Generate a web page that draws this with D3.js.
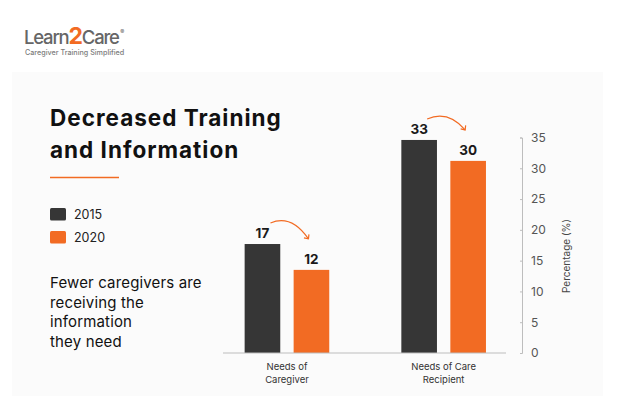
<!DOCTYPE html>
<html>
<head>
<meta charset="utf-8">
<script src="https://cdn.jsdelivr.net/npm/d3@7"></script>
<style>
  body { margin: 0; background: #fff; }
  svg { display: block; font-family: Inter, 'Open Sans', sans-serif; }
</style>
</head>
<body>
<div id="chart"></div>
<script>
// data
const categories = ['Needs of Caregiver', 'Needs of Care Recipient'];
const categoryLines = [['Needs of', 'Caregiver'], ['Needs of Care', 'Recipient']];
const series = ['2015', '2020'];
const values2015 = [17.7, 34.6];   // bar heights as drawn
const values2020 = [13.5, 31.2];
const labels2015 = ['17', '33'];   // printed labels
const labels2020 = ['12', '30'];
const yTicks = [0, 5, 10, 15, 20, 25, 30, 35];
const noteLines = ['Fewer caregivers are', 'receiving the', 'information', 'they need'];

const colors = { '2015': '#363636', '2020': '#f26b23' };
const W = 620, H = 408;

const svg = d3.select('#chart').append('svg')
  .attr('width', W)
  .attr('height', H);

// faint card behind the content
svg.append('rect')
  .attr('x', 12).attr('y', 72)
  .attr('width', 591).attr('height', 324)
  .attr('fill', '#fbfbfb');

// logo
const logo = svg.append('text')
  .attr('x', 24).attr('y', 44)
  .attr('font-size', 18.5)
  .attr('font-weight', 500)
  .attr('fill', '#666')
  .attr('letter-spacing', -1.2);
logo.append('tspan').text('Learn');
logo.append('tspan').attr('fill', '#f26b23').attr('font-weight', 700).attr('font-size', 23).text('2');
logo.append('tspan').text('Care');
logo.append('tspan').attr('font-size', 6).attr('dy', -10).attr('dx', 1.5).text('®');
svg.append('text')
  .attr('x', 25).attr('y', 55)
  .attr('font-size', 7.2)
  .attr('font-weight', 500)
  .attr('fill', '#7c7c7c')
  .text('Caregiver Training Simplified');

// title
const title = svg.append('text')
  .attr('x', 50)
  .attr('font-size', 22.5)
  .attr('font-weight', 700)
  .attr('fill', '#111')
  .attr('letter-spacing', 1);
title.append('tspan').attr('x', 50).attr('y', 126).text('Decreased Training');
title.append('tspan').attr('x', 50).attr('y', 158).text('and Information');

svg.append('line')
  .attr('x1', 50).attr('x2', 119)
  .attr('y1', 177.5).attr('y2', 177.5)
  .attr('stroke', '#f26b23')
  .attr('stroke-width', 1.5);

// legend
const legend = svg.append('g');
series.forEach((s, i) => {
  const g = legend.append('g').attr('transform', `translate(50,${208 + i * 23})`);
  g.append('rect')
    .attr('width', 16).attr('height', 12.5)
    .attr('rx', 1.5)
    .attr('fill', colors[s]);
  g.append('text')
    .attr('x', 24).attr('y', 10.5)
    .attr('font-size', 12.5)
    .attr('fill', '#222')
    .text(s);
});

// note
svg.append('g').selectAll('text')
  .data(noteLines)
  .enter().append('text')
  .attr('x', 50)
  .attr('y', (d, i) => 288 + i * 19.6)
  .attr('font-size', 15)
  .attr('letter-spacing', 0.15)
  .attr('fill', '#111')
  .text(d => d);

// scales
const x0 = d3.scaleBand()
  .domain(categories)
  .range([208.6, 522])
  .paddingInner(0.46)
  .paddingOuter(0.23);

const x1 = d3.scaleBand()
  .domain(series)
  .range([0, x0.bandwidth()])
  .paddingInner(0.273);

const y = d3.scaleLinear()
  .domain([0, 35])
  .range([353, 137.5]);

const rows = categories.map((c, i) => ({
  cat: c,
  bars: [
    { s: '2015', v: values2015[i], label: labels2015[i] },
    { s: '2020', v: values2020[i], label: labels2020[i] },
  ],
}));

const groups = svg.append('g').selectAll('.group')
  .data(rows)
  .enter().append('g')
  .attr('class', 'group')
  .attr('transform', d => `translate(${x0(d.cat)},0)`);

groups.selectAll('rect')
  .data(d => d.bars)
  .enter().append('rect')
  .attr('x', d => x1(d.s))
  .attr('y', d => y(d.v))
  .attr('width', x1.bandwidth())
  .attr('height', d => y(0) - y(d.v))
  .attr('fill', d => colors[d.s]);

groups.selectAll('.val')
  .data(d => d.bars)
  .enter().append('text')
  .attr('class', 'val')
  .attr('x', d => x1(d.s) + x1.bandwidth() / 2)
  .attr('y', d => y(d.v) - 6)
  .attr('text-anchor', 'middle')
  .attr('font-size', 13.5)
  .attr('font-weight', 700)
  .attr('fill', '#1a1a1a')
  .text(d => d.label);

// curved arrows from 2015 label to 2020 label
groups.each(function (d) {
  const a = d.bars[0], b = d.bars[1];
  const sx = x1(a.s) + x1.bandwidth() / 2 + 8, sy = y(a.v) - 21;
  const ex = x1(b.s) + x1.bandwidth() / 2 - 3, ey = y(b.v) - 31;
  const g = d3.select(this);
  g.append('path')
    .attr('d', `M${sx},${sy} Q${sx + (ex - sx) * 0.55},${Math.min(sy, ey) - 9} ${ex},${ey}`)
    .attr('fill', 'none')
    .attr('stroke', '#f26b23')
    .attr('stroke-width', 1.2);
  g.append('path')
    .attr('d', `M${ex - 4.5},${ey - 1} L${ex},${ey} L${ex + 0.5},${ey - 4.5}`)
    .attr('fill', 'none')
    .attr('stroke', '#f26b23')
    .attr('stroke-width', 1.2);
});

// baseline
svg.append('line')
  .attr('x1', 223).attr('x2', 506)
  .attr('y1', y(0)).attr('y2', y(0))
  .attr('stroke', '#bdbdbd')
  .attr('stroke-width', 1);

// category labels
svg.append('g').selectAll('text')
  .data(categories)
  .enter().append('text')
  .attr('x', d => x0(d) + x0.bandwidth() / 2)
  .attr('y', 370)
  .attr('text-anchor', 'middle')
  .attr('font-size', 9.5)
  .attr('fill', '#333')
  .each(function (d, i) {
    categoryLines[i].forEach((ln, j) => {
      d3.select(this).append('tspan')
        .attr('x', x0(d) + x0.bandwidth() / 2)
        .attr('dy', j === 0 ? 0 : 12.7)
        .text(ln);
    });
  });

// right axis
const yAxis = svg.append('g')
  .attr('transform', 'translate(522,0)')
  .call(d3.axisRight(y).tickValues(yTicks).tickSize(-2).tickSizeOuter(-2).tickPadding(9));
yAxis.select('.domain').attr('stroke', '#bdbdbd');
yAxis.selectAll('.tick line').attr('stroke', '#bdbdbd');
yAxis.selectAll('.tick text')
  .attr('font-family', 'Inter, sans-serif')
  .attr('font-size', 12)
  .attr('fill', '#555');

svg.append('text')
  .attr('transform', 'translate(570,256) rotate(-90)')
  .attr('text-anchor', 'middle')
  .attr('font-size', 10)
  .attr('fill', '#444')
  .text('Percentage (%)');
</script>
</body>
</html>
